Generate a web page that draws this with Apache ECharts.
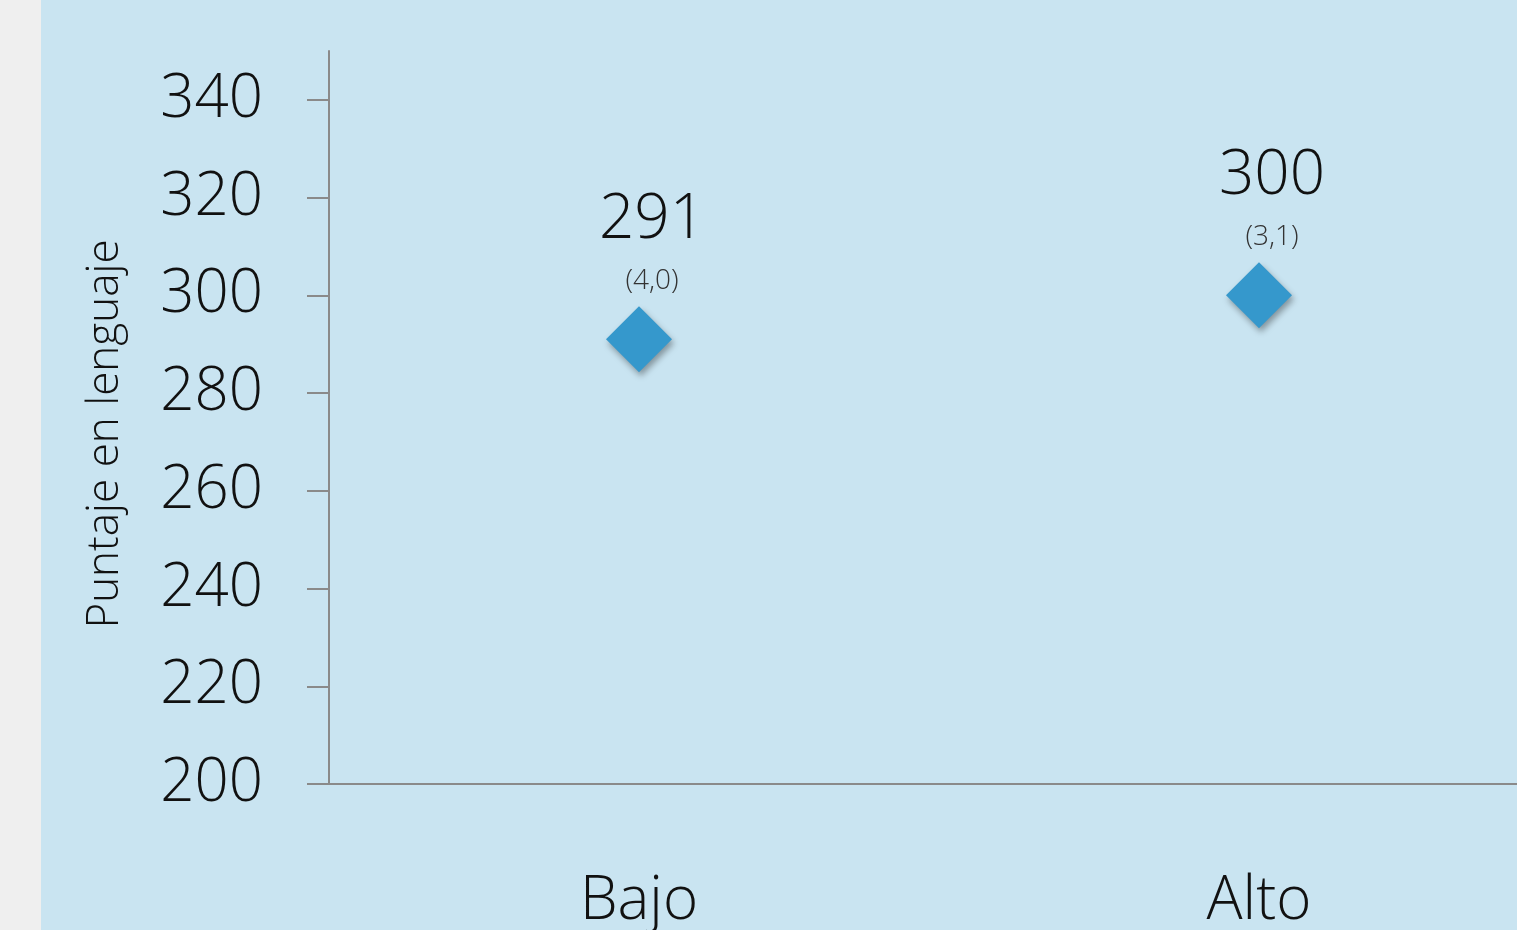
<!DOCTYPE html>
<html><head><meta charset="utf-8">
<script src="https://cdn.jsdelivr.net/npm/echarts@6/dist/echarts.min.js"></script>
<style>html,body{margin:0;padding:0;background:#efefef;}#c{width:1517px;height:930px;}</style>
</head><body><div id="c"></div>
<script>
const categories = ['Bajo', 'Alto'];
const scores = [291, 300];
const stdErrors = ['(4,0)', '(3,1)'];
const yTickValues = [200, 220, 240, 260, 280, 300, 320, 340];
const yAxisTitle = 'Puntaje en lenguaje';

const FONT = '"Open Sans", "Noto Sans", sans-serif';
const chart = echarts.init(document.getElementById('c'));
chart.setOption({
  backgroundColor: '#c9e4f1',
  animation: false,
  grid: { left: 329, top: 51, bottom: 146, right: -52, outerBoundsMode: 'none' },
  xAxis: {
    type: 'category', data: categories, boundaryGap: true,
    axisLine: { lineStyle: { color: '#8a8a8a', width: 2 } },
    axisTick: { show: false },
    axisLabel: { fontSize: 60, color: '#111', fontFamily: FONT, fontWeight: 300, margin: 88 }
  },
  yAxis: {
    type: 'value', min: 200, max: 350, interval: 10,
    splitLine: { show: false },
    axisLine: { show: true, lineStyle: { color: '#8a8a8a', width: 2 } },
    axisTick: { show: true, length: 22, customValues: yTickValues, lineStyle: { color: '#8a8a8a', width: 2 } },
    axisLabel: { customValues: yTickValues, fontSize: 60, color: '#111', fontFamily: FONT, fontWeight: 300, margin: 66 }
  },
  graphic: [
    { type: 'rect', left: 0, top: 0, shape: { x: 0, y: 0, width: 41, height: 930 }, style: { fill: '#efefef' } },
    { type: 'text', x: 105, y: 434, rotation: Math.PI / 2,
      style: { text: yAxisTitle, fontSize: 44, fontFamily: FONT, fontWeight: 300, fill: '#111', align: 'center', verticalAlign: 'middle' } }
  ],
  series: [{
    type: 'scatter',
    data: scores.map((v, i) => ({ value: [categories[i], v], err: stdErrors[i] })),
    symbol: 'diamond', symbolSize: [66, 66],
    itemStyle: { color: '#3598cc', opacity: 1, shadowColor: 'rgba(0,0,0,0.35)', shadowBlur: 6, shadowOffsetX: 2, shadowOffsetY: 4 },
    label: {
      show: true, position: 'top', distance: 12, offset: [13, 0],
      formatter: p => '{a|' + p.value[1] + '}\n{b|' + p.data.err + '}',
      rich: {
        a: { fontSize: 62, fontFamily: FONT, fontWeight: 300, color: '#111', lineHeight: 96, align: 'center' },
        b: { fontSize: 28, fontFamily: FONT, fontWeight: 300, color: '#333', lineHeight: 26, align: 'center' }
      }
    }
  }]
});
</script></body></html>
